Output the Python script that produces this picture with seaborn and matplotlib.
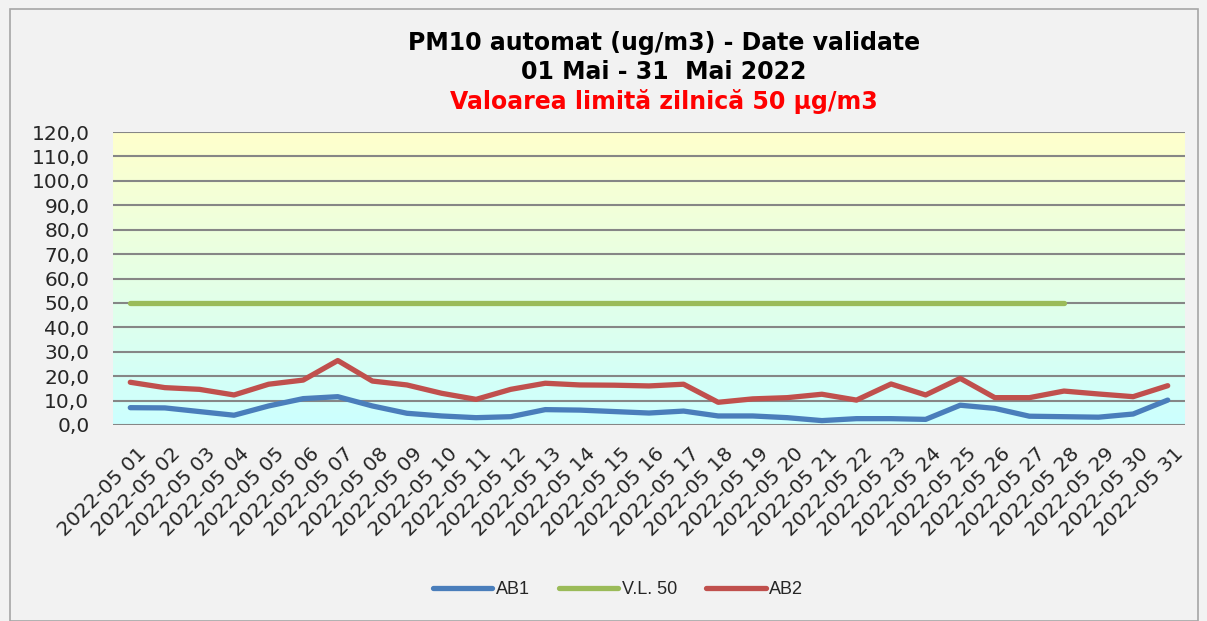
import matplotlib
matplotlib.use("Agg")
import matplotlib.pyplot as plt
import matplotlib.transforms as mtransforms
from matplotlib.colors import LinearSegmentedColormap
from matplotlib.patches import Rectangle
import numpy as np
import pandas as pd
import seaborn as sns

zile = ["2022-05 %02d" % d for d in range(1, 32)]

ab1 = [7.1, 7.0, 5.5, 4.0, 7.8, 10.8, 11.6, 7.8, 4.8, 3.7, 3.0, 3.4, 6.3, 6.1, 5.5,
       4.9, 5.7, 3.7, 3.7, 3.0, 1.8, 2.6, 2.6, 2.3, 8.1, 6.8, 3.6, 3.4, 3.2, 4.5, 10.2]
ab2 = [17.5, 15.3, 14.6, 12.3, 16.7, 18.4, 26.4, 18.0, 16.4, 13.0, 10.5, 14.6, 17.1, 16.4, 16.3,
       16.0, 16.7, 9.3, 10.7, 11.2, 12.6, 10.2, 16.8, 12.3, 19.1, 11.2, 11.2, 13.9, 12.7, 11.6, 16.1]
vl50 = [50.0] * 28

serii = ["AB1", "V.L. 50", "AB2"]
culori = ["#4A7EBB", "#9BBB59", "#C0504D"]

rows = []
for nume, valori in zip(serii, [ab1, vl50, ab2]):
    for i, v in enumerate(valori):
        rows.append({"zi": i, "valoare": v, "serie": nume})
df = pd.DataFrame(rows)

sns.set_style("white")
plt.rcParams['font.family'] = ['DejaVu Sans']

fig = plt.figure(figsize=(12.07, 6.21), dpi=100, facecolor="#F2F2F2")
ax = fig.add_axes([113 / 1207, 196 / 621, 1072 / 1207, 293 / 621])
ax.set_facecolor("none")

# chenar exterior
fig.patches.append(Rectangle((10 / 1207, 0), 1188 / 1207, 612 / 621, transform=fig.transFigure,
                             fill=False, edgecolor="#A6A6A6", linewidth=1.2))

# fundal gradient cyan -> galben
cmap = LinearSegmentedColormap.from_list("fundal", ["#CCFFFF", "#FFFFCC"])
grad = np.linspace(0, 1, 256).reshape(-1, 1)
ax.imshow(grad, cmap=cmap, origin="lower", aspect="auto",
          extent=[-0.5, len(zile) - 0.5, 0, 120], zorder=0)

for y in range(0, 130, 10):
    ax.axhline(y, color="#868686", linewidth=1.5, zorder=1)

sns.lineplot(data=df, x="zi", y="valoare", hue="serie", hue_order=serii,
             palette=culori, linewidth=3.8, ax=ax, zorder=3,
             solid_capstyle="round", solid_joinstyle="round", legend=False)

ax.set_xlim(-0.5, len(zile) - 0.5)
ax.set_ylim(0, 120)
ax.set_yticks(range(0, 130, 10))
ax.set_yticklabels(["%d,0" % v for v in range(0, 130, 10)], fontsize=14.5)
ax.set_xticks(range(len(zile)))
ax.set_xticklabels(zile, rotation=45, ha="right", rotation_mode="anchor", fontsize=14.5)
ax.tick_params(axis="y", length=0, pad=17)
ax.tick_params(axis="x", length=0, pad=10)
deplasare = mtransforms.ScaledTranslation(6 / 100, -5 / 100, fig.dpi_scale_trans)
for lbl in ax.get_xticklabels():
    lbl.set_transform(lbl.get_transform() + deplasare)
ax.set_xlabel("")
ax.set_ylabel("")
for s in ax.spines.values():
    s.set_visible(False)

fig.text(664 / 1207, 1 - 43 / 621, "PM10 automat (ug/m3) - Date validate", ha="center", va="center",
         fontsize=17, fontweight="bold", color="black")
fig.text(664 / 1207, 1 - 72 / 621, "01 Mai - 31  Mai 2022", ha="center", va="center",
         fontsize=17, fontweight="bold", color="black")
fig.text(664 / 1207, 1 - 101 / 621, "Valoarea limită zilnică 50 µg/m3", ha="center", va="center",
         fontsize=17, fontweight="bold", color="#FF0000")

handles = [plt.Line2D([], [], color=c, linewidth=3.8, solid_capstyle="round") for c in culori]
fig.legend(handles, serii, loc="center", bbox_to_anchor=(618 / 1207, 1 - 590 / 621), ncol=3,
           frameon=False, handlelength=3.3, columnspacing=1.6, handletextpad=0.2,
           prop={"family": "Liberation Sans", "size": 13})

fig.savefig("out.png", dpi=100, facecolor=fig.get_facecolor())
